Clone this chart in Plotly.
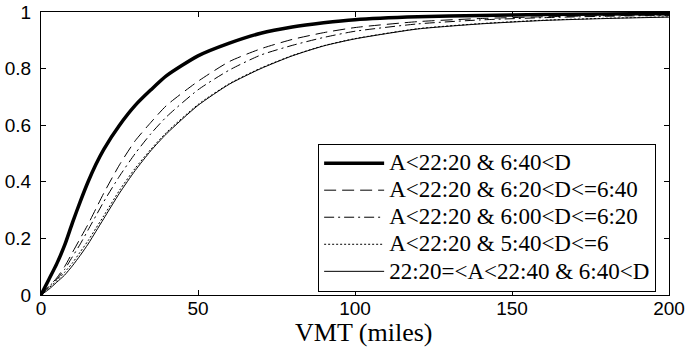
import plotly.graph_objects as go

vmt = [0, 2.5, 5, 7.5, 10, 12.5, 15, 17.5, 20, 25, 30, 35, 40, 50, 60, 70, 80, 90, 100, 120, 140, 160, 180, 200]

s1 = [0, 0.055, 0.11, 0.175, 0.255, 0.33, 0.40, 0.462, 0.515, 0.60, 0.67, 0.725, 0.775, 0.845, 0.89, 0.925, 0.947, 0.962, 0.973, 0.983, 0.988, 0.991, 0.993, 0.995]
s2 = [0, 0.03, 0.06, 0.10, 0.15, 0.20, 0.25, 0.305, 0.36, 0.46, 0.545, 0.61, 0.67, 0.755, 0.825, 0.87, 0.903, 0.927, 0.945, 0.966, 0.977, 0.983, 0.987, 0.99]
s3 = [0, 0.03, 0.055, 0.09, 0.135, 0.18, 0.23, 0.28, 0.33, 0.42, 0.50, 0.57, 0.63, 0.725, 0.795, 0.848, 0.882, 0.91, 0.932, 0.958, 0.972, 0.98, 0.985, 0.988]
s4 = [0, 0.025, 0.05, 0.08, 0.113, 0.152, 0.192, 0.236, 0.28, 0.37, 0.448, 0.515, 0.575, 0.673, 0.747, 0.802, 0.846, 0.881, 0.906, 0.941, 0.959, 0.971, 0.978, 0.983]
s5 = [0, 0.02, 0.045, 0.07, 0.103, 0.14, 0.18, 0.225, 0.27, 0.36, 0.44, 0.51, 0.57, 0.67, 0.745, 0.80, 0.845, 0.88, 0.905, 0.94, 0.958, 0.97, 0.977, 0.982]

names = [
    "A<22:20 & 6:40<D",
    "A<22:20 & 6:20<D<=6:40",
    "A<22:20 & 6:00<D<=6:20",
    "A<22:20 & 5:40<D<=6",
    "22:20=<A<22:40 & 6:40<D",
]
series = [s1, s2, s3, s4, s5]
widths = [3.5, 1, 1, 1, 1]
dashes = ["solid", "12px,6px", "10px,4px,2px,4px", "2px,2px", "solid"]

fig = go.Figure()
for nm, ys, w, d in zip(names, series, widths, dashes):
    label = nm.replace("&", "&amp;").replace("<", "&lt;")
    fig.add_trace(go.Scatter(x=vmt, y=ys, mode="lines",
                             name='<span style="font-size:23px">' + label + '</span>',
                             line=dict(color="black", width=w, dash=d, shape="spline", smoothing=0.6)))

axis_common = dict(showline=True, linecolor="black", linewidth=1, mirror="ticks",
                   ticks="inside", ticklen=5, tickcolor="black", showgrid=False, zeroline=False,
                   automargin=False,
                   tickfont=dict(family="Liberation Sans", size=19, color="black"))

fig.update_layout(
    width=686, height=353,
    margin=dict(l=41, r=17, t=12, b=58),
    paper_bgcolor="white", plot_bgcolor="white",
    showlegend=True,
    legend=dict(x=0.9795, y=0.012, xanchor="right", yanchor="bottom",
                bgcolor="white", bordercolor="black", borderwidth=1,
                font=dict(family="Liberation Serif", size=18.5, color="black"),
                itemwidth=60, tracegroupgap=0),
    xaxis=dict(range=[0, 200], tickvals=[0, 50, 100, 150, 200], ticklabelstandoff=-4,
               **axis_common),
    yaxis=dict(range=[0, 1], tickvals=[0, 0.2, 0.4, 0.6, 0.8, 1], ticktext=["0", "0.2", "0.4", "0.6", "0.8", "1"],
               ticklabelstandoff=5, **axis_common),
    annotations=[dict(text="VMT (miles)", xref="paper", yref="paper", x=0.514, y=-0.134,
                      xanchor="center", yanchor="middle", showarrow=False,
                      font=dict(family="Liberation Serif", size=26, color="black"))],
)

fig.write_html("out.html")
